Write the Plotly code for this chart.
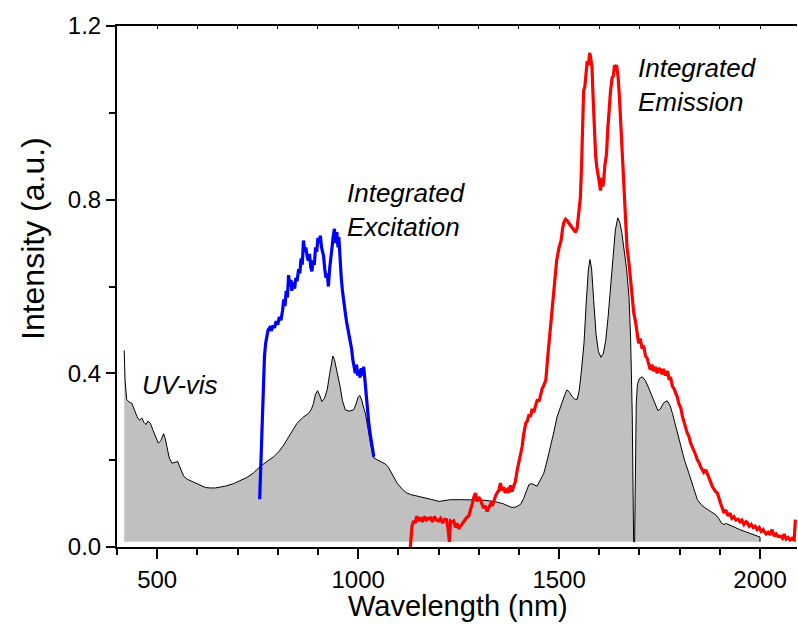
import plotly.graph_objects as go

# ---------------- data ----------------
uv_nm = [418, 420, 424, 430, 437, 444, 450, 456, 462, 467, 472, 477, 483, 490, 497, 503, 509, 516, 520, 524,
         530, 537, 543, 551, 557, 566, 575, 586, 597, 607, 620, 632, 645, 657, 673, 690, 706, 723, 740, 757,
         773, 790, 803, 815, 830, 848, 862, 877, 884, 889, 894, 899, 904, 910, 916, 923, 929, 934, 937, 941,
         945, 949, 955, 961, 968, 978, 989, 995, 1000, 1004, 1009, 1014, 1018, 1025, 1032, 1039, 1050, 1060, 1068, 1075,
         1082, 1090, 1097, 1110, 1120, 1130, 1145, 1163, 1180, 1201, 1215, 1230, 1255, 1279, 1310, 1338, 1360, 1375, 1383, 1392,
         1404, 1412, 1420, 1425, 1432, 1437, 1445, 1452, 1462, 1470, 1479, 1487, 1495, 1503, 1510, 1516, 1520, 1526, 1533, 1540,
         1545, 1550, 1555, 1562, 1568, 1573, 1577, 1581, 1586, 1592, 1598, 1604, 1610, 1616, 1622, 1628, 1634, 1640, 1646, 1651,
         1656, 1661, 1668, 1674, 1678, 1682, 1684, 1685.5, 1688, 1690, 1692, 1695, 1700, 1707, 1715, 1723, 1735, 1746, 1752, 1760,
         1769, 1776, 1782, 1792, 1802, 1812, 1823, 1834, 1844, 1856, 1869, 1880, 1889, 1897, 1904, 1910, 1916, 1930, 1950, 1970,
         1985, 2000, 2000]
uv_val = [0.453, 0.385, 0.340, 0.334, 0.331, 0.315, 0.300, 0.292, 0.297, 0.287, 0.282, 0.290, 0.285, 0.268, 0.250, 0.239, 0.245, 0.261, 0.250, 0.231,
          0.205, 0.193, 0.195, 0.197, 0.183, 0.163, 0.156, 0.151, 0.146, 0.141, 0.137, 0.136, 0.136, 0.138, 0.141, 0.146, 0.152, 0.160, 0.171, 0.186,
          0.197, 0.208, 0.220, 0.235, 0.258, 0.285, 0.298, 0.308, 0.318, 0.331, 0.352, 0.360, 0.350, 0.335, 0.342, 0.362, 0.398, 0.432, 0.440, 0.432,
          0.415, 0.400, 0.370, 0.337, 0.316, 0.313, 0.316, 0.330, 0.345, 0.349, 0.338, 0.320, 0.308, 0.270, 0.232, 0.205, 0.200, 0.196, 0.191, 0.184,
          0.172, 0.158, 0.147, 0.133, 0.125, 0.121, 0.118, 0.115, 0.110, 0.105, 0.107, 0.109, 0.109, 0.109, 0.108, 0.105, 0.100, 0.094, 0.091, 0.092,
          0.098, 0.112, 0.133, 0.144, 0.146, 0.144, 0.140, 0.152, 0.170, 0.198, 0.231, 0.265, 0.300, 0.322, 0.339, 0.355, 0.362, 0.356, 0.346, 0.340,
          0.340, 0.360, 0.400, 0.470, 0.570, 0.640, 0.662, 0.640, 0.570, 0.490, 0.450, 0.437, 0.445, 0.475, 0.530, 0.600, 0.670, 0.730, 0.758, 0.748,
          0.725, 0.691, 0.640, 0.576, 0.480, 0.308, 0.100, 0.012, 0.012, 0.150, 0.330, 0.375, 0.388, 0.392, 0.383, 0.366, 0.338, 0.314, 0.318, 0.332,
          0.337, 0.326, 0.308, 0.270, 0.231, 0.200, 0.170, 0.138, 0.109, 0.095, 0.086, 0.080, 0.075, 0.066, 0.055, 0.052, 0.054, 0.048, 0.040, 0.033,
          0.028, 0.023, 0.012]
UV_BASELINE = 0.012

exc_nm = [755, 758, 761, 764, 767, 770, 773, 776, 780, 784, 788, 792, 796, 800, 804, 808, 812, 815, 818, 821,
          824, 827, 830, 833, 835, 838, 842, 845, 848, 852, 855, 858, 861, 864, 867, 870, 873, 876, 879, 882,
          885, 888, 891, 894, 897, 900, 903, 906, 909, 912, 914, 917, 920, 923, 926, 929, 932, 935, 938, 941,
          944, 947, 950, 952, 955, 958, 961, 964, 968, 971, 975, 978, 981, 984, 987, 990, 993, 996, 999, 1002,
          1005, 1008, 1011, 1014, 1017, 1020, 1023, 1026, 1030, 1034, 1039]
exc_val = [0.110, 0.200, 0.300, 0.390, 0.440, 0.470, 0.490, 0.500, 0.505, 0.498, 0.510, 0.505, 0.520, 0.512, 0.530, 0.522, 0.545, 0.570, 0.555, 0.590,
           0.575, 0.626, 0.600, 0.615, 0.590, 0.610, 0.595, 0.620, 0.612, 0.640, 0.630, 0.665, 0.650, 0.706, 0.680, 0.690, 0.670, 0.660, 0.675, 0.645,
           0.635, 0.660, 0.650, 0.690, 0.680, 0.712, 0.700, 0.717, 0.690, 0.680, 0.670, 0.640, 0.620, 0.630, 0.600, 0.640, 0.670, 0.700, 0.715, 0.733,
           0.700, 0.725, 0.690, 0.714, 0.660, 0.620, 0.590, 0.561, 0.540, 0.520, 0.500, 0.485, 0.477, 0.455, 0.430, 0.410, 0.400, 0.420, 0.395, 0.408,
           0.390, 0.412, 0.395, 0.415, 0.380, 0.340, 0.310, 0.290, 0.260, 0.235, 0.208]

em_nm = [1130, 1132, 1134, 1138, 1142, 1146, 1150, 1155, 1160, 1165, 1170, 1175, 1180, 1185, 1190, 1195, 1200, 1205, 1210, 1215,
         1220, 1224, 1227, 1230, 1234, 1238, 1242, 1246, 1250, 1255, 1260, 1265, 1270, 1275, 1280, 1284, 1288, 1292, 1296, 1300,
         1304, 1308, 1312, 1316, 1321, 1326, 1330, 1334, 1338, 1342, 1346, 1350, 1354, 1358, 1362, 1366, 1371, 1375, 1379, 1383,
         1387, 1391, 1396, 1400, 1404, 1408, 1412, 1417, 1421, 1425, 1429, 1433, 1437, 1442, 1446, 1450, 1454, 1458, 1462, 1467,
         1472, 1476, 1479, 1484, 1488, 1494, 1500, 1505, 1509, 1512, 1516, 1520, 1525, 1529, 1533, 1537, 1541, 1545, 1549, 1553,
         1556, 1559, 1561, 1564, 1567, 1570, 1573, 1576, 1578, 1580, 1582, 1584, 1586, 1588, 1591, 1594, 1597, 1600, 1603, 1606,
         1609, 1611, 1614, 1618, 1621, 1624, 1628, 1632, 1635, 1638, 1640, 1643, 1647, 1650, 1653, 1657, 1661, 1665, 1669, 1674,
         1678, 1682, 1686, 1690, 1694, 1698, 1702, 1706, 1711, 1715, 1719, 1723, 1727, 1731, 1735, 1740, 1744, 1748, 1752, 1756,
         1760, 1765, 1770, 1774, 1777, 1782, 1786, 1790, 1794, 1798, 1803, 1807, 1811, 1815, 1819, 1823, 1827, 1831, 1835, 1840,
         1844, 1848, 1852, 1856, 1860, 1865, 1869, 1873, 1877, 1881, 1885, 1889, 1894, 1898, 1902, 1906, 1910, 1915, 1920, 1925,
         1930, 1935, 1940, 1946, 1950, 1955, 1960, 1965, 1968, 1973, 1978, 1983, 1988, 1993, 1998, 2003, 2008, 2010, 2015, 2020,
         2025, 2030, 2035, 2040, 2045, 2051, 2056, 2060, 2065, 2070, 2075, 2080, 2085, 2088]
em_val = [0.000, 0.030, 0.048, 0.060, 0.055, 0.071, 0.060, 0.068, 0.058, 0.070, 0.062, 0.066, 0.067, 0.058, 0.070, 0.062, 0.060, 0.066, 0.055, 0.064,
          0.063, 0.040, 0.012, 0.060, 0.058, 0.060, 0.045, 0.055, 0.042, 0.048, 0.055, 0.060, 0.068, 0.071, 0.085, 0.100, 0.115, 0.124, 0.105, 0.115,
          0.109, 0.098, 0.090, 0.095, 0.082, 0.092, 0.100, 0.095, 0.109, 0.118, 0.125, 0.130, 0.147, 0.130, 0.138, 0.125, 0.132, 0.125, 0.142, 0.128,
          0.140, 0.150, 0.178, 0.195, 0.215, 0.231, 0.260, 0.285, 0.290, 0.305, 0.300, 0.318, 0.310, 0.331, 0.340, 0.335, 0.354, 0.365, 0.372, 0.385,
          0.440, 0.480, 0.500, 0.560, 0.600, 0.660, 0.690, 0.706, 0.735, 0.748, 0.755, 0.752, 0.745, 0.740, 0.737, 0.730, 0.725, 0.735, 0.770, 0.805,
          0.880, 0.980, 1.050, 1.060, 1.100, 1.119, 1.110, 1.138, 1.131, 1.120, 1.104, 1.050, 1.000, 0.951, 0.900, 0.874, 0.860, 0.840, 0.821, 0.850,
          0.830, 0.844, 0.880, 0.905, 0.960, 1.012, 1.050, 1.081, 1.085, 1.110, 1.104, 1.110, 1.081, 1.040, 0.982, 0.897, 0.830, 0.740, 0.690, 0.653,
          0.610, 0.570, 0.538, 0.520, 0.495, 0.469, 0.480, 0.460, 0.461, 0.440, 0.435, 0.420, 0.408, 0.420, 0.405, 0.415, 0.400, 0.412, 0.408, 0.398,
          0.410, 0.395, 0.405, 0.385, 0.392, 0.370, 0.365, 0.355, 0.346, 0.330, 0.320, 0.300, 0.290, 0.275, 0.262, 0.255, 0.240, 0.232, 0.220, 0.212,
          0.201, 0.195, 0.185, 0.180, 0.172, 0.178, 0.170, 0.160, 0.150, 0.140, 0.132, 0.128, 0.124, 0.110, 0.100, 0.090, 0.079, 0.085, 0.072, 0.078,
          0.066, 0.070, 0.062, 0.064, 0.058, 0.062, 0.052, 0.058, 0.056, 0.048, 0.052, 0.045, 0.048, 0.040, 0.045, 0.036, 0.040, 0.036, 0.030, 0.034,
          0.028, 0.040, 0.025, 0.030, 0.024, 0.025, 0.020, 0.030, 0.018, 0.022, 0.016, 0.020, 0.017, 0.063]

x_range = [400, 2092]
y_range = [0, 1.2]
x_tickvals = [500, 1000, 1500, 2000]
y_tickvals = [0.0, 0.4, 0.8, 1.2]
y_ticktext = ["0.0", "0.4", "0.8", "1.2"]

FONT = "Liberation Sans, Arial, sans-serif"

fig = go.Figure()

# baseline for UV-vis filled area
fig.add_trace(go.Scatter(x=[uv_nm[0], uv_nm[-1]], y=[UV_BASELINE, UV_BASELINE], mode="lines",
                         line=dict(width=0, color="rgba(0,0,0,0)"), hoverinfo="skip", showlegend=False))
fig.add_trace(go.Scatter(x=uv_nm, y=uv_val, mode="lines", fill="tonexty", fillcolor="#C0C0C0",
                         line=dict(color="black", width=1), showlegend=False, name="UV-vis"))
fig.add_trace(go.Scatter(x=exc_nm, y=exc_val, mode="lines", line=dict(color="#0000FF", width=3.2),
                         showlegend=False, name="Integrated Excitation"))
fig.add_trace(go.Scatter(x=em_nm, y=em_val, mode="lines", line=dict(color="#FF0000", width=3.2),
                         showlegend=False, name="Integrated Emission"))
# dummy trace for the top axis
fig.add_trace(go.Scatter(x=x_range, y=[None, None], xaxis="x2", showlegend=False, hoverinfo="skip"))

fig.update_layout(
    width=798, height=628,
    margin=dict(l=117, r=1, t=26, b=81),
    paper_bgcolor="white", plot_bgcolor="white",
    font=dict(family=FONT, color="black"),
    xaxis=dict(range=x_range, showgrid=False, zeroline=False, showline=True, linecolor="black", linewidth=2,
               ticks="outside", ticklen=10, tickwidth=2, tickcolor="black",
               tickvals=x_tickvals, ticktext=[str(v) for v in x_tickvals],
               tickfont=dict(size=24, family=FONT),
               minor=dict(dtick=100, tick0=0, ticks="outside", ticklen=6, tickwidth=1.5, tickcolor="black"),
               fixedrange=True),
    xaxis2=dict(range=x_range, overlaying="x", side="top", anchor="y", showgrid=False, zeroline=False,
                showline=True, linecolor="black", linewidth=2, ticks="inside", ticklen=3, tickwidth=1,
                tickcolor="black", dtick=100, tick0=0, showticklabels=False),
    yaxis=dict(range=y_range, showgrid=False, zeroline=False, showline=True, linecolor="black", linewidth=2,
               ticks="outside", ticklen=9, tickwidth=2, tickcolor="black",
               tickvals=y_tickvals, ticktext=y_ticktext, tickfont=dict(size=24, family=FONT),
               minor=dict(dtick=0.2, tick0=0, ticks="outside", ticklen=6, tickwidth=1.5, tickcolor="black")),
    showlegend=False,
)

annots = [
    dict(text="Wavelength (nm)", xref="paper", yref="paper", x=(458 - 117) / 680, y=(547 - 606) / 521,
         xanchor="center", yanchor="middle", showarrow=False, font=dict(size=29, family=FONT)),
    dict(text="Intensity (a.u.)", xref="paper", yref="paper", x=(33 - 117) / 680, y=(547 - 239) / 521,
         xanchor="center", yanchor="middle", textangle=-90, showarrow=False, font=dict(size=32, family=FONT)),
    dict(text="<i>UV-vis</i>", x=557, y=0.373, xanchor="center", yanchor="middle", showarrow=False,
         font=dict(size=26, family=FONT)),
    dict(text="<i>Integrated<br>Excitation</i>", x=968, y=0.776, xanchor="left", yanchor="middle",
         showarrow=False, align="left", font=dict(size=26, family=FONT)),
    dict(text="<i>Integrated<br>Emission</i>", x=1692, y=1.064, xanchor="left", yanchor="middle",
         showarrow=False, align="left", font=dict(size=26, family=FONT)),
]
fig.update_layout(annotations=annots)

fig.write_html("out.html")
